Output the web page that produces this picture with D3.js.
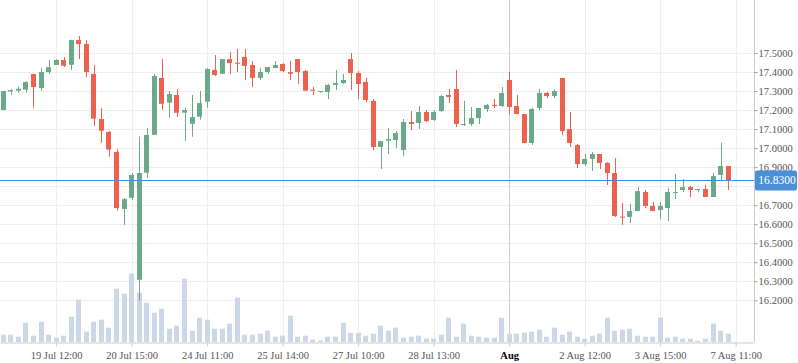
<!DOCTYPE html>
<html>
<head>
<meta charset="utf-8">
<script src="https://cdn.jsdelivr.net/npm/d3@7"></script>
<style>
  html, body { margin: 0; padding: 0; background: #fff; }
  svg { display: block; }
  .axis text { font-family: "Liberation Serif", serif; font-size: 10.5px; }
</style>
</head>
<body>
<svg id="chart"></svg>
<script>
(function () {
  'use strict';

  // hourly candles, index 0..96
  const opens = [17.200,17.298,17.302,17.307,17.390,17.316,17.400,17.437,17.463,17.438,
    17.568,17.547,17.390,17.153,17.085,16.980,16.680,16.739,16.308,16.871,
    17.070,17.369,17.239,17.279,17.186,17.128,17.165,17.244,17.411,17.391,
    17.468,17.449,17.479,17.437,17.369,17.400,17.421,17.442,17.400,17.468,
    17.405,17.307,17.295,17.295,17.332,17.342,17.468,17.395,17.348,17.248,
    17.006,17.039,17.043,16.990,17.137,17.132,17.190,17.148,17.195,17.279,
    17.311,17.121,17.127,17.158,17.206,17.227,17.221,17.358,17.221,17.179,
    17.027,17.211,17.290,17.274,17.369,17.100,17.016,16.916,16.943,16.969,
    16.922,16.869,16.640,16.638,16.669,16.769,16.696,16.675,16.685,16.764,
    16.780,16.795,16.780,16.785,16.743,16.859,16.906];
  const highs = [17.300,17.310,17.323,17.350,17.390,17.420,17.463,17.468,17.479,17.570,
    17.589,17.568,17.437,17.211,17.090,16.995,16.738,16.869,17.060,17.106,
    17.390,17.468,17.300,17.311,17.211,17.279,17.300,17.421,17.489,17.468,
    17.505,17.521,17.521,17.458,17.421,17.426,17.458,17.447,17.458,17.468,
    17.411,17.321,17.300,17.337,17.411,17.390,17.500,17.405,17.369,17.258,
    17.037,17.106,17.090,17.153,17.195,17.221,17.200,17.200,17.279,17.311,
    17.411,17.248,17.216,17.211,17.232,17.258,17.321,17.400,17.279,17.179,
    17.211,17.311,17.295,17.311,17.369,17.190,17.022,16.969,16.980,16.969,
    16.927,16.948,16.711,16.706,16.795,16.780,16.717,16.717,16.790,16.864,
    16.838,16.801,16.785,16.806,16.869,17.027,16.906];
  const lows = [17.200,17.280,17.291,17.291,17.212,17.302,17.390,17.437,17.426,17.411,
    17.468,17.374,17.116,17.028,16.955,16.671,16.596,16.729,16.198,16.844,
    17.070,17.202,17.160,17.165,17.039,17.060,17.149,17.212,17.379,17.391,
    17.390,17.400,17.358,17.321,17.358,17.390,17.421,17.400,17.358,17.337,
    17.302,17.279,17.291,17.258,17.305,17.337,17.305,17.258,17.242,16.990,
    16.890,16.969,17.001,16.958,17.095,17.100,17.137,17.142,17.190,17.237,
    17.111,17.116,17.116,17.127,17.190,17.211,17.216,17.179,17.179,17.027,
    17.016,17.200,17.263,17.263,17.069,17.006,16.895,16.906,16.880,16.890,
    16.806,16.638,16.596,16.606,16.669,16.685,16.669,16.627,16.617,16.732,
    16.769,16.743,16.769,16.743,16.743,16.832,16.780];
  const closes = [17.300,17.305,17.312,17.348,17.321,17.400,17.426,17.463,17.433,17.568,
    17.547,17.400,17.155,17.091,16.992,16.685,16.732,16.859,16.869,17.069,
    17.379,17.233,17.284,17.186,17.200,17.163,17.237,17.416,17.384,17.468,
    17.447,17.446,17.432,17.369,17.400,17.426,17.437,17.405,17.391,17.400,
    17.302,17.302,17.300,17.332,17.342,17.358,17.395,17.337,17.253,17.006,
    17.037,17.048,17.079,17.137,17.127,17.190,17.142,17.190,17.274,17.269,
    17.127,17.127,17.158,17.211,17.227,17.221,17.290,17.216,17.179,17.027,
    17.206,17.290,17.274,17.300,17.090,17.027,16.916,16.943,16.969,16.922,
    16.869,16.643,16.636,16.669,16.774,16.696,16.669,16.696,16.769,16.769,
    16.795,16.780,16.785,16.743,16.853,16.906,16.830];
  const volumes = [730,730,530,1930,630,2030,730,430,630,2530,
    4230,1030,2030,2230,1430,5330,4830,6830,4930,3930,
    2930,3330,1330,1630,6330,1130,2430,2230,1330,1330,
    1830,4430,730,730,830,1130,530,630,2630,530,
    630,230,130,530,530,1930,930,930,630,830,
    1630,1130,1430,430,530,630,330,330,730,2430,
    530,1830,630,530,430,430,2430,830,830,930,
    1030,1230,530,1430,730,1030,530,330,630,830,
    2430,1130,1230,1330,630,530,530,2430,430,530,
    330,330,130,330,1830,1130,830];

  const tickIndex = [7, 17, 27, 37, 47, 57, 67, 77, 87, 97];
  const tickLabels = ['19 Jul 12:00', '20 Jul 15:00', '24 Jul 11:00', '25 Jul 14:00',
    '27 Jul 10:00', '28 Jul 13:00', 'Aug', '2 Aug 12:00', '3 Aug 15:00', '7 Aug 11:00'];
  const monthTick = 'Aug';
  const priceTicks = d3.range(16.2, 17.55, 0.1);
  const lastPrice = 16.83;

  const width = 798;
  const height = 363;
  const plot = { left: 0, top: 0, right: 754, bottom: 342 };

  const up = '#6aaa8b';
  const down = '#ec6150';

  const candles = opens.map((o, i) => ({
    i, o, h: highs[i], l: lows[i], c: closes[i], v: volumes[i]
  }));

  const x = d3.scaleLinear()
    .domain([-0.437, 99.43])
    .range([plot.left, plot.right]);

  const y = d3.scaleLinear()
    .domain([16.2, 17.5])
    .range([300.3, 53]);

  const yVol = d3.scaleLinear()
    .domain([0, 10000])
    .range([plot.bottom, plot.bottom - 100]);

  const svg = d3.select('#chart')
    .attr('width', width)
    .attr('height', height);

  // grid
  svg.append('g')
    .selectAll('line')
    .data(priceTicks)
    .join('line')
      .attr('x1', plot.left)
      .attr('x2', plot.right)
      .attr('y1', d => Math.round(y(d)) + 0.5)
      .attr('y2', d => Math.round(y(d)) + 0.5)
      .attr('stroke', '#eeeeee')
      .attr('stroke-width', 1);

  svg.append('g')
    .selectAll('line')
    .data(tickIndex)
    .join('line')
      .attr('x1', d => Math.round(x(d)) + 0.5)
      .attr('x2', d => Math.round(x(d)) + 0.5)
      .attr('y1', plot.top)
      .attr('y2', plot.bottom)
      .attr('stroke', (d, i) => tickLabels[i] === monthTick ? '#cccccc' : '#eeeeee')
      .attr('stroke-width', 1);

  // volume bars behind the candles
  const bw = 5;
  svg.append('g')
    .selectAll('rect')
    .data(candles)
    .join('rect')
      .attr('x', d => Math.round(x(d.i) - bw / 2))
      .attr('y', d => yVol(d.v))
      .attr('width', bw)
      .attr('height', d => plot.bottom - yVol(d.v))
      .attr('fill', '#cbd8ea');

  // candles
  const g = svg.append('g');
  g.selectAll('line')
    .data(candles)
    .join('line')
      .attr('x1', d => Math.round(x(d.i)) + 0.5)
      .attr('x2', d => Math.round(x(d.i)) + 0.5)
      .attr('y1', d => y(d.h))
      .attr('y2', d => y(d.l))
      .attr('stroke', d => d.c >= d.o ? up : down)
      .attr('stroke-width', 1);

  g.selectAll('rect')
    .data(candles)
    .join('rect')
      .attr('x', d => Math.round(x(d.i) - bw / 2))
      .attr('y', d => y(Math.max(d.o, d.c)))
      .attr('width', bw)
      .attr('height', d => Math.max(1, Math.abs(y(d.o) - y(d.c))))
      .attr('fill', d => d.c >= d.o ? up : down);

  // last price line
  svg.append('line')
    .attr('x1', plot.left)
    .attr('x2', plot.right)
    .attr('y1', Math.round(y(lastPrice)) + 0.5)
    .attr('y2', Math.round(y(lastPrice)) + 0.5)
    .attr('stroke', '#3f8fdc')
    .attr('stroke-width', 1);

  // axes
  const xAxis = svg.append('g')
    .attr('class', 'axis')
    .attr('transform', `translate(0,${plot.bottom + 0.5})`)
    .call(d3.axisBottom(x)
      .tickValues(tickIndex)
      .tickFormat((d, i) => tickLabels[i])
      .tickSize(4)
      .tickSizeOuter(0));
  xAxis.select('.domain').attr('stroke', '#cccccc');
  xAxis.selectAll('.tick line').attr('stroke', '#cccccc');
  xAxis.selectAll('.tick text')
    .attr('fill', (d, i) => tickLabels[i] === monthTick ? '#000' : '#555')
    .attr('font-weight', (d, i) => tickLabels[i] === monthTick ? 'bold' : 'normal')
    .attr('dy', '0.9em');

  // price tag hides the tick label it sits on
  const visibleTicks = priceTicks.filter(d => Math.abs(y(d) - y(lastPrice)) > 12);

  const yAxis = svg.append('g')
    .attr('class', 'axis')
    .attr('transform', `translate(${plot.right + 0.5},0)`)
    .call(d3.axisRight(y)
      .tickValues(visibleTicks)
      .tickFormat(d3.format('.4f'))
      .tickSize(3)
      .tickPadding(1)
      .tickSizeOuter(0));
  yAxis.select('.domain')
    .attr('stroke', '#cccccc')
    .attr('d', `M0,${plot.top}V${plot.bottom}`);
  yAxis.selectAll('.tick line').attr('stroke', '#999');
  yAxis.selectAll('.tick text').attr('fill', '#555');

  // last price tag
  const tag = svg.append('g')
    .attr('transform', `translate(${plot.right + 1},${y(lastPrice)})`);
  tag.append('rect')
    .attr('x', 0)
    .attr('y', -10)
    .attr('width', 42)
    .attr('height', 20)
    .attr('rx', 2)
    .attr('fill', '#4a90d9');
  tag.append('text')
    .attr('x', 22)
    .attr('y', 0)
    .attr('dy', '0.35em')
    .attr('text-anchor', 'middle')
    .attr('fill', '#fff')
    .style('font-family', '"Liberation Serif", serif')
    .style('font-size', '11.5px')
    .text(d3.format('.4f')(lastPrice));
}());
</script>
</body>
</html>
